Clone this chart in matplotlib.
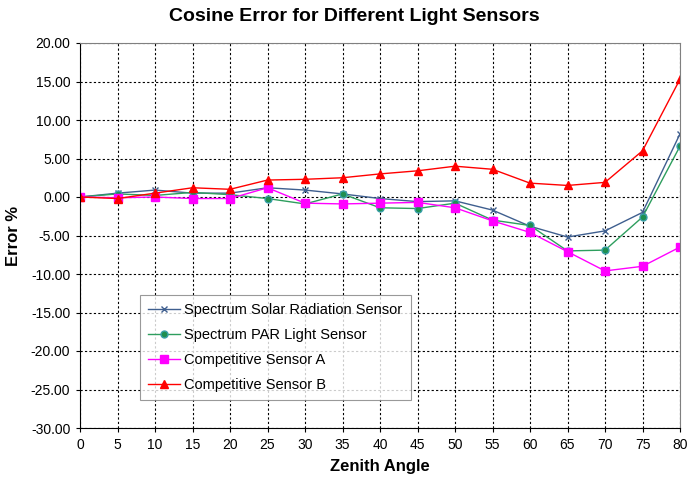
import matplotlib.pyplot as plt
from matplotlib.ticker import FormatStrFormatter, MultipleLocator

plt.rcParams['font.family'] = ['Liberation Sans', 'DejaVu Sans']

# zenith angles (degrees)
angles = [0, 5, 10, 15, 20, 25, 30, 35, 40, 45, 50, 55, 60, 65, 70, 75, 80]

# cosine error % per sensor
solar = [0.0, 0.5, 0.9, 0.5, 0.5, 1.2, 0.9, 0.4, -0.2, -0.6, -0.5, -1.7, -3.8, -5.2, -4.4, -2.0, 8.2]
par = [0.0, 0.4, 0.2, 0.6, 0.3, -0.2, -0.9, 0.4, -1.4, -1.5, -0.8, -3.0, -3.7, -7.0, -6.9, -2.6, 6.6]
sensor_a = [0.0, -0.1, 0.0, -0.2, -0.2, 1.2, -0.8, -0.9, -0.8, -0.7, -1.4, -3.1, -4.6, -7.1, -9.6, -9.0, -6.5]
sensor_b = [0.0, -0.2, 0.5, 1.2, 1.0, 2.2, 2.3, 2.5, 3.0, 3.4, 4.0, 3.6, 1.8, 1.5, 1.9, 6.0, 15.3]

fig = plt.figure(figsize=(6.87, 4.78), dpi=100)
ax = fig.add_axes([80 / 687, 50 / 478, 600 / 687, 385 / 478])

ax.plot(angles, solar, color='#3f5f8f', lw=1, marker='x', ms=5, mew=1,
        label='Spectrum Solar Radiation Sensor')
ax.plot(angles, par, color='#2e9e5e', lw=1, marker='o', ms=5,
        mfc='#1f8f4f', mec='#3aa0a8', label='Spectrum PAR Light Sensor')
ax.plot(angles, sensor_a, color='#ff00ff', lw=1, marker='s', ms=6,
        label='Competitive Sensor A')
ax.plot(angles, sensor_b, color='#ff0000', lw=1, marker='^', ms=6,
        label='Competitive Sensor B')

ax.set_xlim(0, 80)
ax.set_ylim(-30, 20)
ax.xaxis.set_major_locator(MultipleLocator(5))
ax.yaxis.set_major_locator(MultipleLocator(5))
ax.yaxis.set_major_formatter(FormatStrFormatter('%.2f'))
ax.grid(True, color='black', linestyle=(0, (2, 2)), linewidth=0.8)
ax.tick_params(labelsize=10, direction='out', length=3, pad=4)

for side in ['top', 'right']:
    ax.spines[side].set_color('#808080')
ax.spines['left'].set_color('black')
ax.spines['bottom'].set_color('black')

ax.set_xlabel('Zenith Angle', fontsize=12, fontweight='bold', labelpad=5)
ax.set_ylabel('Error %', fontsize=12, fontweight='bold', labelpad=7)
fig.text(354 / 687, 0.965, 'Cosine Error for Different Light Sensors',
         fontsize=14, fontweight='bold', ha='center', va='center')

leg = ax.legend(loc='lower left', bbox_to_anchor=(0.1, 0.073), fontsize=10.5,
                frameon=True, fancybox=False, edgecolor='#808080',
                handlelength=2.2, borderpad=0.55, labelspacing=0.75,
                handletextpad=0.3, borderaxespad=0)
leg.get_frame().set_linewidth(0.8)

fig.savefig('out.png', dpi=100)
